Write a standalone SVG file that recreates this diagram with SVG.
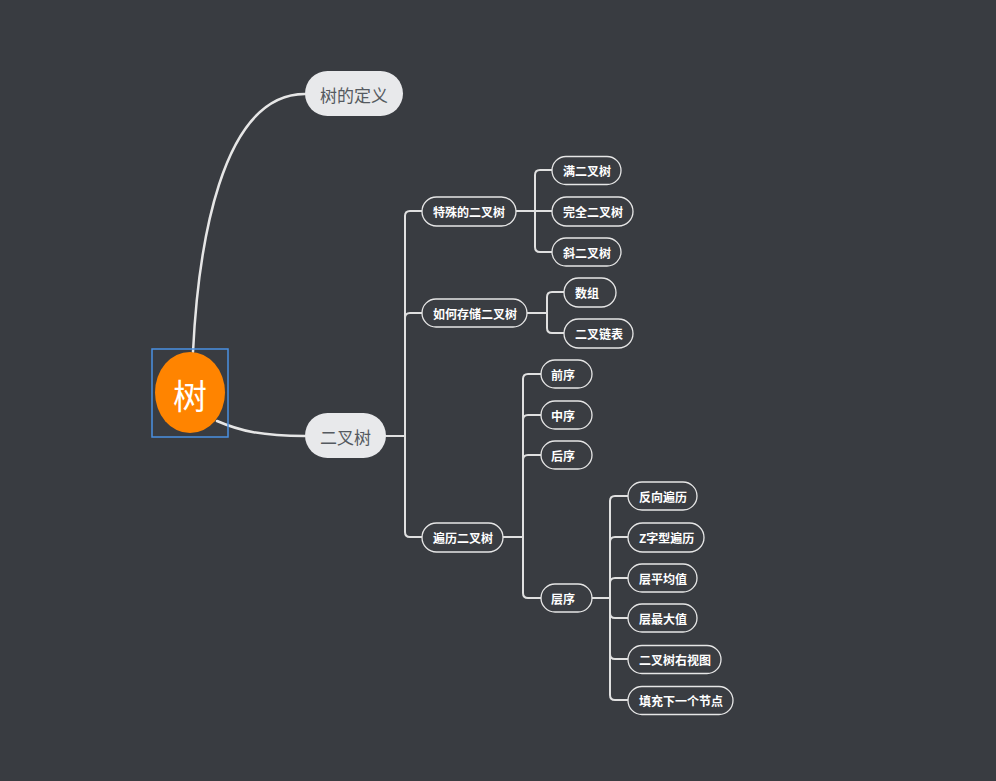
<svg xmlns="http://www.w3.org/2000/svg" width="996" height="781" viewBox="0 0 996 781">
<style>
.main{fill:#e8e9eb;}
.mt{font-family:"Noto Sans CJK SC","Noto Sans",sans-serif;font-size:17px;fill:#555a60;dominant-baseline:central;}
.sub{fill:#3a3d42;stroke:#e6e6e6;stroke-width:1.3;}
.st{font-family:"Noto Sans CJK SC","Noto Sans",sans-serif;font-size:12px;font-weight:bold;fill:#ffffff;dominant-baseline:central;}
.c{fill:none;stroke:#e0e0e0;stroke-width:2;stroke-linecap:round;stroke-linejoin:round;}
.ct{fill:none;stroke:#e6e6e6;stroke-width:2.5;stroke-linecap:round;}
</style>
<rect width="996" height="781" fill="#393c41"/>
<g id="connectors">
<path class="ct" d="M193,352 C198,250 220,94 305,94"/>
<path class="ct" d="M217,421 C240,431 262,436 305,436"/>
<path class="c" d="M386,436 H405"/>
<path class="c" d="M405,436 V216 Q405,211 410,211 H422"/>
<path class="c" d="M405,436 V318 Q405,313 410,313 H422"/>
<path class="c" d="M405,436 V532 Q405,537 410,537 H422"/>
<path class="c" d="M516,211 H535"/>
<path class="c" d="M535,211 V175 Q535,170 540,170 H552"/>
<path class="c" d="M535,211 H552"/>
<path class="c" d="M535,211 V247 Q535,252 540,252 H552"/>
<path class="c" d="M527,313 H547"/>
<path class="c" d="M547,313 V297 Q547,292 552,292 H564"/>
<path class="c" d="M547,313 V328 Q547,333 552,333 H564"/>
<path class="c" d="M503,537 H523"/>
<path class="c" d="M523,537 V379 Q523,374 528,374 H541"/>
<path class="c" d="M523,537 V420 Q523,415 528,415 H541"/>
<path class="c" d="M523,537 V460 Q523,455 528,455 H541"/>
<path class="c" d="M523,537 V593 Q523,598 528,598 H541"/>
<path class="c" d="M592,598 H610"/>
<path class="c" d="M610,598 V501 Q610,496 615,496 H628"/>
<path class="c" d="M610,598 V542 Q610,537 615,537 H628"/>
<path class="c" d="M610,598 V583 Q610,578 615,578 H628"/>
<path class="c" d="M610,598 V613 Q610,618 615,618 H628"/>
<path class="c" d="M610,598 V654 Q610,659 615,659 H628"/>
<path class="c" d="M610,598 V695 Q610,700 615,700 H628"/>
</g>
<g id="root">
<rect x="152" y="349" width="76" height="88" fill="none" stroke="#4a90e2" stroke-width="1.5"/>
<ellipse cx="190" cy="392.5" rx="35" ry="40.5" fill="#ff8400"/>
<text x="190" y="394" text-anchor="middle" dominant-baseline="central" font-family="Noto Sans CJK SC,Noto Sans,sans-serif" font-size="34" fill="#ffffff">树</text>
</g>
<g id="n-def"><rect class="main" x="305" y="71" width="98" height="45" rx="22.5"/><text class="mt" x="354" y="94" text-anchor="middle">树的定义</text></g>
<g id="n-bt"><rect class="main" x="305" y="413" width="81" height="45" rx="22.5"/><text class="mt" x="345.5" y="436" text-anchor="middle">二叉树</text></g>
<g id="n-special"><rect class="sub" x="422" y="197" width="94" height="29" rx="14.5"/><text class="st" x="433" y="211.5">特殊的二叉树</text></g>
<g id="n-store"><rect class="sub" x="422" y="299" width="105" height="28" rx="14"/><text class="st" x="433" y="313">如何存储二叉树</text></g>
<g id="n-trav"><rect class="sub" x="422" y="523" width="81" height="29" rx="14.5"/><text class="st" x="433" y="537.5">遍历二叉树</text></g>
<g id="n-full"><rect class="sub" x="552" y="156.5" width="69" height="28" rx="14"/><text class="st" x="563" y="170.5">满二叉树</text></g>
<g id="n-complete"><rect class="sub" x="552" y="197" width="81" height="29" rx="14.5"/><text class="st" x="563" y="211.5">完全二叉树</text></g>
<g id="n-skew"><rect class="sub" x="552" y="238" width="69" height="28" rx="14"/><text class="st" x="563" y="252">斜二叉树</text></g>
<g id="n-array"><rect class="sub" x="564" y="278" width="52" height="29" rx="14.5"/><text class="st" x="575" y="292.5">数组</text></g>
<g id="n-linked"><rect class="sub" x="564" y="319" width="69" height="29" rx="14.5"/><text class="st" x="575" y="333.5">二叉链表</text></g>
<g id="n-pre"><rect class="sub" x="541" y="360" width="51" height="28" rx="14"/><text class="st" x="551" y="374">前序</text></g>
<g id="n-in"><rect class="sub" x="541" y="401" width="51" height="28" rx="14"/><text class="st" x="551" y="415">中序</text></g>
<g id="n-post"><rect class="sub" x="541" y="441" width="51" height="28" rx="14"/><text class="st" x="551" y="455">后序</text></g>
<g id="n-level"><rect class="sub" x="541" y="584" width="51" height="28" rx="14"/><text class="st" x="551" y="598">层序</text></g>
<g id="n-rev"><rect class="sub" x="628" y="482" width="69" height="28" rx="14"/><text class="st" x="639" y="496">反向遍历</text></g>
<g id="n-zig"><rect class="sub" x="628" y="523" width="76" height="29" rx="14.5"/><text class="st" x="639" y="537.5">Z字型遍历</text></g>
<g id="n-avg"><rect class="sub" x="628" y="564" width="69" height="28" rx="14"/><text class="st" x="639" y="578">层平均值</text></g>
<g id="n-max"><rect class="sub" x="628" y="604" width="69" height="28" rx="14"/><text class="st" x="639" y="618">层最大值</text></g>
<g id="n-right"><rect class="sub" x="628" y="645.5" width="93" height="28" rx="14"/><text class="st" x="639" y="659.5">二叉树右视图</text></g>
<g id="n-next"><rect class="sub" x="628" y="686.5" width="105" height="28" rx="14"/><text class="st" x="639" y="700.5">填充下一个节点</text></g>
</svg>
